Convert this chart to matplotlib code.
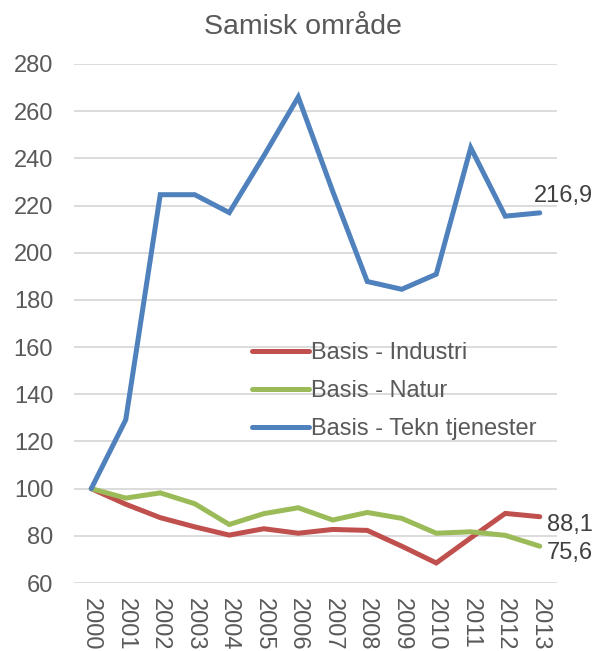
import matplotlib.pyplot as plt

plt.rcParams['font.family'] = ['Liberation Sans', 'DejaVu Sans']

years = [str(y) for y in range(2000, 2014)]
industri = [100, 93.4, 87.7, 83.8, 80.3, 83.0, 81.1, 82.7, 82.3, 75.6, 68.5, 79.1, 89.5, 88.1]
natur = [100, 96.0, 98.2, 93.6, 84.8, 89.4, 91.9, 86.7, 89.9, 87.4, 81.1, 81.7, 80.2, 75.6]
tekn = [100, 129.2, 224.6, 224.6, 217.0, 241.0, 266.0, 226.0, 187.8, 184.5, 190.9, 244.5, 215.5, 216.9]

red = '#C0504D'
green = '#9BBB59'
blue = '#4F81BD'
grey = '#595959'

fig = plt.figure(figsize=(5.99, 6.51), dpi=100)
ax = fig.add_axes([74/599, 1 - 583/651, (557 - 74)/599, (583 - 64)/651])

x = range(len(years))
ax.plot(x, industri, color=red, lw=3.6, solid_capstyle='round', solid_joinstyle='miter', label='Basis - Industri')
ax.plot(x, natur, color=green, lw=3.6, solid_capstyle='round', solid_joinstyle='miter', label='Basis - Natur')
ax.plot(x, tekn, color=blue, lw=3.6, solid_capstyle='round', solid_joinstyle='miter', label='Basis - Tekn tjenester')

ax.set_xlim(-0.5, len(years) - 0.5)
ax.set_ylim(60, 280)
ax.set_yticks(range(60, 281, 20))
ax.set_xticks(list(x))
ax.set_xticklabels(years, rotation=-90)
ax.grid(axis='y', color='#D9D9D9', lw=1.3)
ax.set_axisbelow(True)
for s in ax.spines.values():
    s.set_visible(False)
ax.tick_params(length=0, labelsize=17, colors=grey)
ax.tick_params(axis='y', pad=15)
ax.tick_params(axis='x', pad=11)

# data labels at the end
ax.annotate('216,9', (13, tekn[-1]), xytext=(-4, 4), textcoords='offset points',
            fontsize=17, color='#404040', ha='left', va='bottom')
ax.annotate('88,1', (13, industri[-1]), xytext=(5, -6), textcoords='offset points',
            fontsize=17, color='#404040', ha='left', va='center')
ax.annotate('75,6', (13, natur[-1]), xytext=(5, -5), textcoords='offset points',
            fontsize=17, color='#404040', ha='left', va='center')

leg = ax.legend(loc='upper left', bbox_to_anchor=(252/599, 1 - 342/651), bbox_transform=fig.transFigure,
                frameon=False, fontsize=17, handlelength=2.4, handletextpad=0.1,
                labelspacing=0.68, borderpad=0, borderaxespad=0)
for t in leg.get_texts():
    t.set_color(grey)

fig.text(303/599, 1 - 27/651, 'Samisk område', fontsize=20.5, color=grey, ha='center', va='center')

fig.savefig('out.png', dpi=100)
